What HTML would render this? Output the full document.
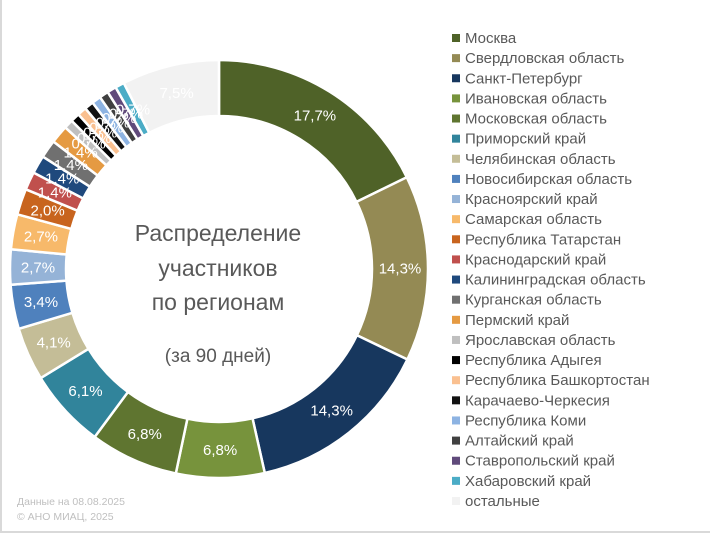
<!DOCTYPE html>
<html><head><meta charset="utf-8"><style>
body{margin:0;background:#fff;}
#wrap{position:relative;width:708px;height:531px;border:1px solid #d9d9d9;border-width:0 2px 2px 2px;font-family:"Liberation Sans","DejaVu Sans",sans-serif;}
svg text{font-family:"Liberation Sans","DejaVu Sans",sans-serif;}
</style></head><body>
<div id="wrap">
<svg id="chart" width="710" height="533" style="position:absolute;left:-2px;top:0"></svg>
</div>
<script>
const categories=["Москва","Свердловская область","Санкт-Петербург","Ивановская область","Московская область","Приморский край","Челябинская область","Новосибирская область","Красноярский край","Самарская область","Республика Татарстан","Краснодарский край","Калининградская область","Курганская область","Пермский край","Ярославская область","Республика Адыгея","Республика Башкортостан","Карачаево-Черкесия","Республика Коми","Алтайский край","Ставропольский край","Хабаровский край","остальные"];
const values=[17.7,14.3,14.3,6.8,6.8,6.1,4.1,3.4,2.7,2.7,2.0,1.4,1.4,1.4,1.4,0.7,0.7,0.7,0.7,0.7,0.7,0.7,0.7,7.5];
const labels=["17,7%","14,3%","14,3%","6,8%","6,8%","6,1%","4,1%","3,4%","2,7%","2,7%","2,0%","1,4%","1,4%","1,4%","1,4%","0,7%","0,7%","0,7%","0,7%","0,7%","0,7%","0,7%","0,7%","7,5%"];
const colors=["#4f6228","#948a54","#17375e","#77933c","#5f7530","#31849b","#c4bd97","#4f81bd","#95b3d7","#f7b96a","#c8641e","#c0504d","#1f497d","#707070","#e59a42","#bfbfbf","#000000","#fac090","#111111","#8db3e2","#404040","#604a7b","#4bacc6","#f2f2f2"];
const NS="http://www.w3.org/2000/svg";
const svg=document.getElementById('chart');
const cx=219,cy=269,R=209,r=153;
const total=values.reduce((a,b)=>a+b,0);
function angle(v){return v/total*2*Math.PI;}
function pt(rad,a){return [cx+rad*Math.sin(a),cy-rad*Math.cos(a)];}
function mk(tag,attrs){const e=document.createElementNS(NS,tag);for(const k in attrs)e.setAttribute(k,attrs[k]);svg.appendChild(e);return e;}
let a0=0;
values.forEach((v,i)=>{
  const a1=a0+angle(v);
  const large=(a1-a0)>Math.PI?1:0;
  const [x1,y1]=pt(R,a0),[x2,y2]=pt(R,a1),[x3,y3]=pt(r,a1),[x4,y4]=pt(r,a0);
  const p=mk('path',{d:`M${x1},${y1}A${R},${R} 0 ${large} 1 ${x2},${y2}L${x3},${y3}A${r},${r} 0 ${large} 0 ${x4},${y4}Z`,fill:colors[i],stroke:'#fff','stroke-width':2.5});
  
  
  a0=a1;
});
a0=0;
values.forEach((v,i)=>{
  const am=a0+angle(v)/2;
  const [x,y]=pt((R+r)/2,am);
  const t=mk('text',{x:x,y:y+5,'text-anchor':'middle','font-size':15,fill:'#fff'});
  t.textContent=labels[i];
  
  
  a0+=angle(v);
});
categories.forEach((c,i)=>{
  const y=38+i*20.13;
  const s=mk('rect',{x:452,y:y-4,width:8,height:8,fill:colors[i]});
  
  
  const t=mk('text',{x:465,y:y+5,'font-size':15,fill:'#595959'});
  t.textContent=c;
  
  
});
const center=[["Распределение",241,23],["участников",276,23],["по регионам",310,23],["(за 90 дней)",362,19]];
center.forEach((c,i)=>{
  const t=mk('text',{x:218,y:c[1],'text-anchor':'middle','font-size':c[2],fill:'#595959'});
  t.textContent=c[0];
  
  
});
const foot=[["Данные на 08.08.2025",505],["© АНО МИАЦ, 2025",520]];
foot.forEach((f,i)=>{
  const t=mk('text',{x:17,y:f[1],'font-size':10.5,fill:'#bfbfbf'});
  t.textContent=f[0];
  
  
});
</script>
</body></html>
